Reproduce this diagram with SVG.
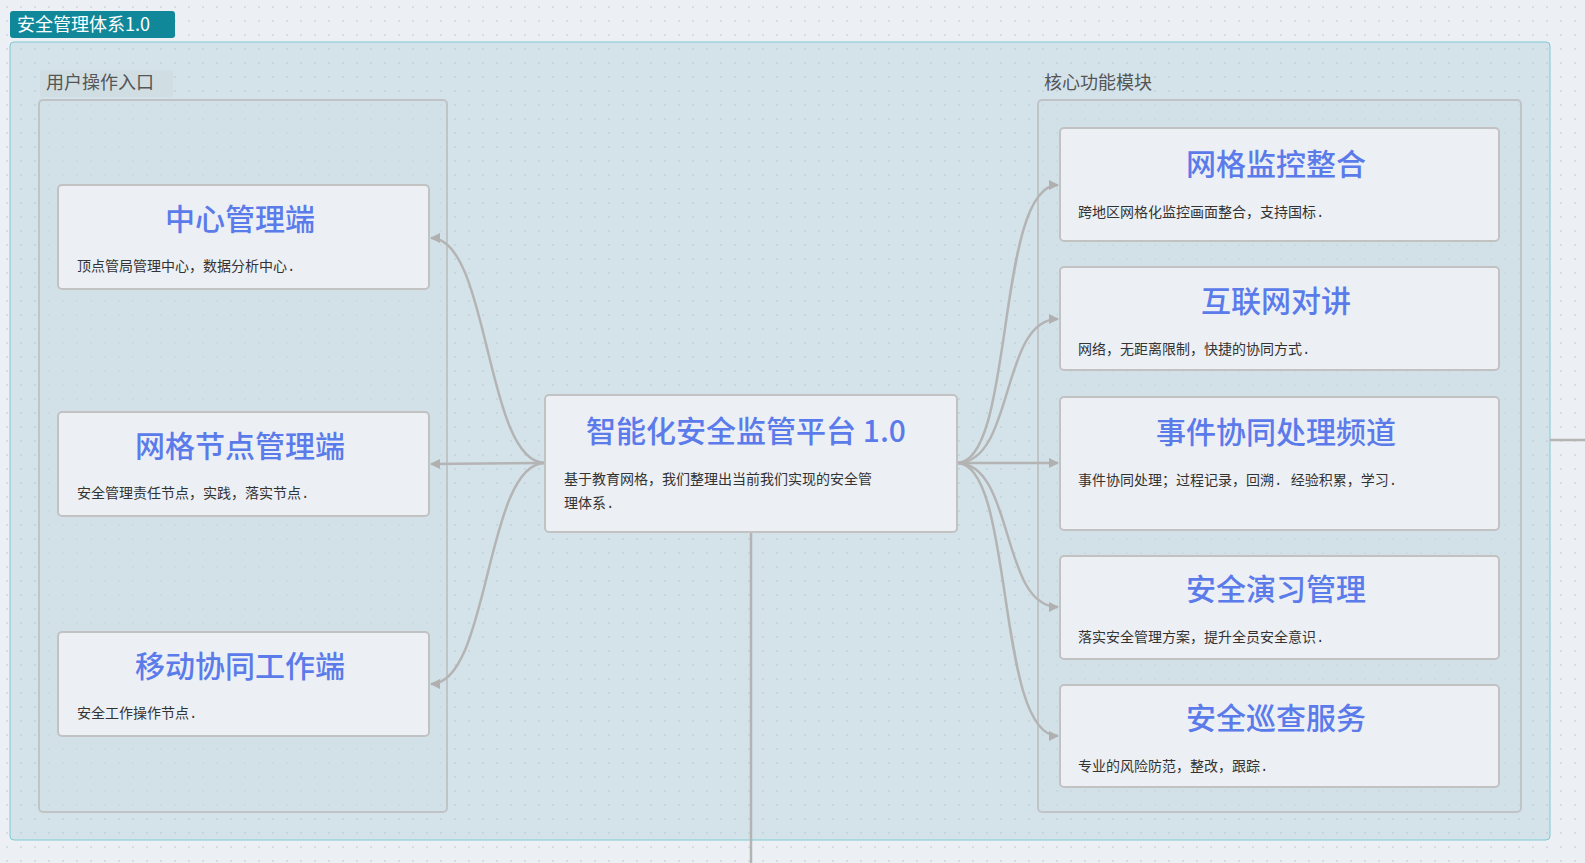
<svg xmlns="http://www.w3.org/2000/svg" width="1585" height="863" viewBox="0 0 1585 863">
<defs>
<pattern id="dots" width="14" height="14" patternUnits="userSpaceOnUse"><circle cx="7" cy="7" r="0.8" fill="#b8c4cc"/></pattern>
<marker id="arr" viewBox="0 0 10 10" refX="9" refY="5" markerWidth="10" markerHeight="10" markerUnits="userSpaceOnUse" orient="auto"><path d="M0,0 L10,5 L0,10 z" fill="#b0b0b0"/></marker>
<style>
.node{fill:#eceff4;stroke:#c2c2c2;stroke-width:2}
.t{font-family:"Noto Sans CJK SC","Liberation Mono",sans-serif;font-size:30px;fill:#5b7bea;text-anchor:middle;font-weight:500}
.d{font-family:"Liberation Mono","Noto Sans CJK SC",monospace;font-size:14px;fill:#333}
.lbl{font-family:"Noto Sans CJK SC",sans-serif;font-size:18px;fill:#555}
.c{fill:none;stroke:#b4b4b4;stroke-width:2.5}
</style>
</defs>
<rect width="1585" height="863" fill="#eceff4"/>
<rect width="1585" height="863" fill="url(#dots)"/>
<g id="container">
<rect x="10" y="42" width="1540" height="798" rx="4" fill="#d3e3e9" stroke="#7fcad2"/>
<rect x="10" y="42" width="1540" height="798" rx="4" fill="url(#dots)"/>
<rect x="10" y="11" width="165" height="27" rx="3" fill="#11889a"/>
<text x="17" y="31" font-family="Noto Sans CJK SC,Liberation Mono,sans-serif" font-size="18" fill="#fff">安全管理体系1.0</text>
</g>
<g id="group-left">
<rect x="40" y="70" width="133" height="27" rx="3" fill="#d0dee3"/>
<text class="lbl" x="46" y="89">用户操作入口</text>
<rect x="39" y="100" width="408" height="712" rx="4" fill="#d0e0e6" fill-opacity="0.5" stroke="#c0c4c6" stroke-width="2"/>
</g>
<g id="group-right">
<text class="lbl" x="1044" y="89">核心功能模块</text>
<rect x="1038" y="100" width="483" height="712" rx="4" fill="#d0e0e6" fill-opacity="0.5" stroke="#c0c4c6" stroke-width="2"/>
</g>
<g id="connectors">
<path class="c" d="M545,463 C485,463 490,238 431,238" marker-end="url(#arr)"/>
<path class="c" d="M545,463 L431,464" marker-end="url(#arr)"/>
<path class="c" d="M545,463 C485,463 490,684 431,684" marker-end="url(#arr)"/>
<path class="c" d="M957,463 C1015,463 995,185 1058,185" marker-end="url(#arr)"/>
<path class="c" d="M957,463 C1015,463 1000,319 1058,319" marker-end="url(#arr)"/>
<path class="c" d="M957,463 L1058,463" marker-end="url(#arr)"/>
<path class="c" d="M957,463 C1015,463 1000,607 1058,607" marker-end="url(#arr)"/>
<path class="c" d="M957,463 C1015,463 995,736 1058,736" marker-end="url(#arr)"/>
<path class="c" d="M751,532 L751,863"/>
<path class="c" d="M1550,440 L1585,440"/>
</g>
<g id="n-center"><rect class="node" x="545" y="395" width="412" height="137" rx="4"/>
<text class="t" x="746" y="442">智能化安全监管平台 1.0</text>
<text class="d" x="564" y="484">基于教育网格，我们整理出当前我们实现的安全管</text>
<text class="d" x="564" y="508">理体系.</text></g>
<g id="n-l1"><rect class="node" x="58" y="185" width="371" height="104" rx="4"/>
<text class="t" x="240" y="230">中心管理端</text><text class="d" x="77" y="271">顶点管局管理中心，数据分析中心.</text></g>
<g id="n-l2"><rect class="node" x="58" y="412" width="371" height="104" rx="4"/>
<text class="t" x="240" y="457">网格节点管理端</text><text class="d" x="77" y="498">安全管理责任节点，实践，落实节点.</text></g>
<g id="n-l3"><rect class="node" x="58" y="632" width="371" height="104" rx="4"/>
<text class="t" x="240" y="677">移动协同工作端</text><text class="d" x="77" y="718">安全工作操作节点.</text></g>
<g id="n-r1"><rect class="node" x="1060" y="128" width="439" height="113" rx="4"/>
<text class="t" x="1276" y="175">网格监控整合</text><text class="d" x="1078" y="217">跨地区网格化监控画面整合，支持国标.</text></g>
<g id="n-r2"><rect class="node" x="1060" y="267" width="439" height="103" rx="4"/>
<text class="t" x="1276" y="312">互联网对讲</text><text class="d" x="1078" y="354">网络，无距离限制，快捷的协同方式.</text></g>
<g id="n-r3"><rect class="node" x="1060" y="397" width="439" height="133" rx="4"/>
<text class="t" x="1276" y="443">事件协同处理频道</text><text class="d" x="1078" y="485">事件协同处理；过程记录，回溯. 经验积累，学习.</text></g>
<g id="n-r4"><rect class="node" x="1060" y="556" width="439" height="103" rx="4"/>
<text class="t" x="1276" y="600">安全演习管理</text><text class="d" x="1078" y="642">落实安全管理方案，提升全员安全意识.</text></g>
<g id="n-r5"><rect class="node" x="1060" y="685" width="439" height="102" rx="4"/>
<text class="t" x="1276" y="729">安全巡查服务</text><text class="d" x="1078" y="771">专业的风险防范，整改，跟踪.</text></g>
</svg>
